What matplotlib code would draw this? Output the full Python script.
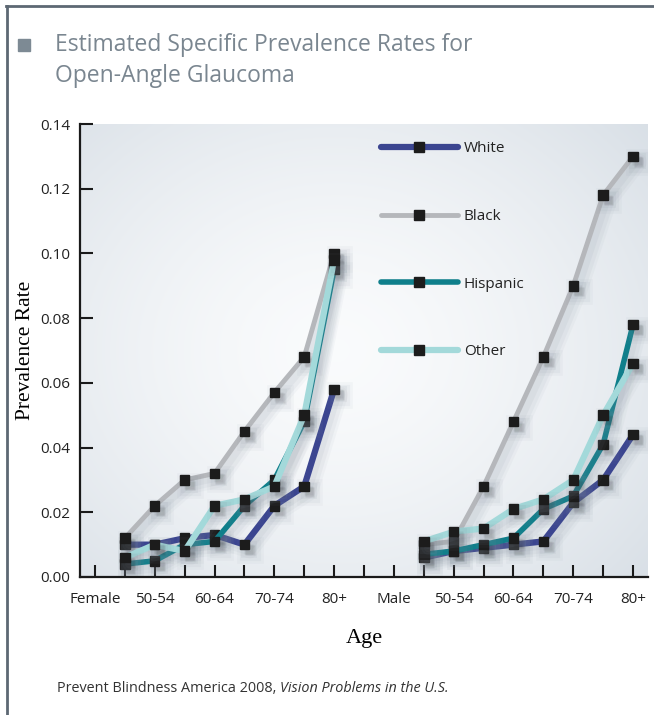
import matplotlib
matplotlib.use("Agg")
import matplotlib.pyplot as plt
import matplotlib.patheffects as pe
import numpy as np

# Age groups: one empty slot for each sex label, then 8 age groups
positions_female = np.arange(1, 9)
positions_male = np.arange(11, 19)
tick_labels = ["Female", "", "50-54", "", "60-64", "", "70-74", "", "80+", "",
               "Male", "", "50-54", "", "60-64", "", "70-74", "", "80+"]

# Prevalence rates, female then male
white_f = [0.010, 0.010, 0.012, 0.013, 0.010, 0.022, 0.028, 0.058]
black_f = [0.012, 0.022, 0.030, 0.032, 0.045, 0.057, 0.068, 0.100]
hispanic_f = [0.004, 0.005, 0.010, 0.011, 0.022, 0.030, 0.048, 0.095]
other_f = [0.006, 0.010, 0.008, 0.022, 0.024, 0.028, 0.050, 0.098]

white_m = [0.006, 0.008, 0.009, 0.010, 0.011, 0.023, 0.030, 0.044]
black_m = [0.010, 0.011, 0.028, 0.048, 0.068, 0.090, 0.118, 0.130]
hispanic_m = [0.007, 0.008, 0.010, 0.012, 0.021, 0.025, 0.041, 0.078]
other_m = [0.011, 0.014, 0.015, 0.021, 0.024, 0.030, 0.050, 0.066]

series = [
    ("White", white_f, white_m, "#3b4590", 4.5),
    ("Black", black_f, black_m, "#b5b7bb", 3.5),
    ("Hispanic", hispanic_f, hispanic_m, "#0f7f8b", 4.0),
    ("Other", other_f, other_m, "#a3d9da", 4.5),
]

fig = plt.figure(figsize=(6.54, 7.15), dpi=100)
W, H = 654, 715
ax = fig.add_axes([80 / W, 1 - 577 / H, 568 / W, 453 / H])

# soft radial background
yy, xx = np.mgrid[0:1:300j, 0:1:400j]
r = np.sqrt(((xx - 0.45) / 0.8) ** 2 + ((yy - 0.5) / 0.85) ** 2)
r = np.clip(r, 0, 1)
c0 = np.array([0.98, 0.985, 0.99])
c1 = np.array([0.83, 0.86, 0.89])
img = c0 + (c1 - c0) * (r[..., None] ** 1.5)
ax.imshow(img, extent=[0, 1, 0, 1], transform=ax.transAxes, aspect="auto",
          zorder=0, origin="lower")

# blurred drop shadow under each line
shadow = [pe.Stroke(offset=(4, -4), linewidth=12, foreground="#7f8c9a", alpha=0.05),
          pe.Stroke(offset=(4, -4), linewidth=8, foreground="#7f8c9a", alpha=0.07),
          pe.Stroke(offset=(3, -3), linewidth=5, foreground="#7f8c9a", alpha=0.08),
          pe.Normal()]

for name, fem, mal, color, lw in series:
    kw = dict(color=color, lw=lw, marker="s", ms=6.8, mfc="#1c1c1c", mec="#1c1c1c",
              solid_capstyle="round", zorder=3, path_effects=shadow)
    ax.plot(positions_female, fem, label=name, **kw)
    ax.plot(positions_male, mal, **kw)

ax.set_xlim(-0.5, 18.5)
ax.set_ylim(0, 0.14)
ax.set_xticks(np.arange(19))
ax.set_xticklabels(tick_labels)
ax.set_yticks(np.arange(0, 0.141, 0.02))
ax.set_yticklabels([f"{v:.2f}" for v in np.arange(0, 0.141, 0.02)])

for side in ("top", "right"):
    ax.spines[side].set_visible(False)
for side in ("left", "bottom"):
    ax.spines[side].set_linewidth(1.6)
    ax.spines[side].set_color("#1a1a1a")
    ax.spines[side].set_zorder(4)
ax.tick_params(axis="both", direction="in", length=9, width=1.5, color="#1a1a1a",
               labelsize=11, labelcolor="#222222")
ax.tick_params(axis="y", pad=7)
ax.tick_params(axis="x", pad=11)
for lab in ax.get_xticklabels() + ax.get_yticklabels():
    lab.set_family("Open Sans")

ax.set_ylabel("Prevalence Rate", family="Liberation Serif", fontsize=15.5, labelpad=4)
ax.set_xlabel("Age", family="Liberation Serif", fontsize=16, labelpad=16)

leg = ax.legend(loc="upper left", bbox_to_anchor=(0.506, 0.992), frameon=False,
                handlelength=5.0, labelspacing=3.45, handletextpad=0.4,
                prop={"family": "Open Sans", "size": 11})
for h in leg.legend_handles:
    h.set_path_effects([])
for t in leg.get_texts():
    t.set_color("#222222")

# frame lines and title block
fig.add_artist(plt.Line2D([6 / W, 1], [1 - 6 / H, 1 - 6 / H], color="#5d6873", lw=2))
fig.add_artist(plt.Line2D([7 / W, 7 / W], [0, 1 - 6 / H], color="#5d6873", lw=2))
fig.add_artist(plt.Rectangle((18 / W, 1 - 51 / H), 12 / W, 12 / H,
                             color="#7d8a94", transform=fig.transFigure))
fig.text(55 / W, 1 - 45 / H, "Estimated Specific Prevalence Rates for",
         family="Open Sans", fontsize=16.5, color="#7a8690", va="center")
fig.text(55 / W, 1 - 76 / H, "Open-Angle Glaucoma",
         family="Open Sans", fontsize=16.5, color="#7a8690", va="center")

src = fig.text(57 / W, 1 - 688 / H, "Prevent Blindness America 2008, ",
               family="Open Sans", fontsize=10.4, color="#333333", va="center")
fig.canvas.draw()
bb = src.get_window_extent()
fig.text(bb.x1 / W, 1 - 688 / H, "Vision Problems in the U.S.",
         family="Open Sans", style="italic", fontsize=10.4, color="#333333", va="center")

fig.savefig("out.png", dpi=100)
